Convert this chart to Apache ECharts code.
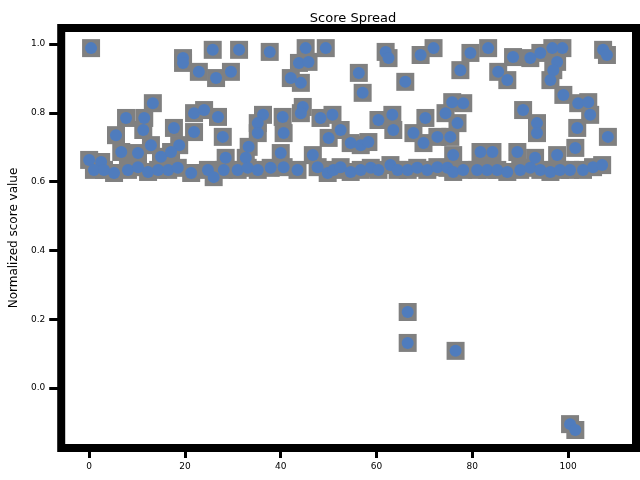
<!DOCTYPE html>
<html>
<head>
<meta charset="utf-8">
<script src="https://cdn.jsdelivr.net/npm/echarts@6/dist/echarts.min.js"></script>
<style>html,body{margin:0;padding:0;background:#fff}#c{width:640px;height:480px}</style>
</head>
<body>
<div id="c"></div>
<script>
var titleText = 'Score Spread';
var yAxisTitle = 'Normalized score value';
var xTicks = [0, 20, 40, 60, 80, 100];
var yTicks = [0, 0.2, 0.4, 0.6, 0.8, 1.0];

var xs = [
  0.4, 19.6, 19.6, 22.9, 26.5, 29.6, 25.8, 31.3, 37.7, 45.2, 49.4, 43.8, 45.8, 42.1, 44.2, 56.3, 57.1,
  61.9, 62.5, 69.2, 71.9, 66.0, 79.6, 83.3, 77.5, 85.4, 87.3, 88.5, 92.1, 94.2, 96.7, 98.8, 97.7, 96.9,
  96.3, 107.3, 108.1, 99.0, 102.1, 104.2, 104.6,
  44.6, 44.2, 48.3, 50.8, 36.3, 35.2, 40.4, 40.6, 35.2, 50.0, 52.5, 54.6, 56.7, 58.3, 60.4, 63.3, 63.5,
  67.7, 70.2, 69.8, 72.7, 75.4, 74.4, 75.8, 78.1, 76.9, 76.0, 81.7, 84.2, 89.4, 90.6, 93.5, 93.5, 93.1,
  97.7, 101.5, 101.9, 108.3, 46.7, 40.0,
  13.3, 7.7, 11.5, 11.3, 5.6, 12.9, 17.7, 18.8, 21.9, 24.0, 26.9, 21.9, 27.9, 33.3,
  0.0, 2.5, 6.7, 10.2, 15.0, 17.1, 28.5, 32.7,
  1.0, 3.1, 5.2, 8.1, 10.2, 12.3, 14.4, 16.5, 18.5, 21.3, 24.8, 26.0, 28.1, 31.0, 33.1, 35.2,
  37.9, 40.6, 43.5, 47.7, 49.8, 51.0, 52.5, 54.6, 56.7, 58.8, 60.4, 62.9, 64.4, 66.5, 68.5, 70.6,
  72.7, 74.8, 76.0, 78.1, 81.0, 83.1, 85.2, 87.3, 90.0, 92.1, 94.2, 96.3, 98.3, 100.4, 103.1, 105.2, 107.1,
  66.5, 66.5, 76.5, 100.4, 101.5
];
var ys = [
  0.988, 0.959, 0.945, 0.919, 0.901, 0.919, 0.983, 0.983, 0.977, 0.988, 0.988, 0.945, 0.948, 0.901, 0.887, 0.916, 0.858,
  0.977, 0.959, 0.968, 0.988, 0.890, 0.974, 0.988, 0.924, 0.919, 0.895, 0.962, 0.959, 0.974, 0.988, 0.988, 0.948, 0.924,
  0.895, 0.983, 0.968, 0.852, 0.828, 0.831, 0.794,
  0.817, 0.799, 0.785, 0.794, 0.794, 0.770, 0.788, 0.741, 0.741, 0.727, 0.750, 0.712, 0.706, 0.715, 0.779, 0.794, 0.750,
  0.741, 0.785, 0.712, 0.730, 0.730, 0.799, 0.831, 0.828, 0.770, 0.677, 0.686, 0.686, 0.686, 0.808, 0.770, 0.741, 0.669,
  0.677, 0.698, 0.756, 0.730, 0.677, 0.683,
  0.828, 0.785, 0.785, 0.750, 0.735, 0.706, 0.756, 0.706, 0.799, 0.808, 0.788, 0.744, 0.730, 0.701,
  0.663, 0.657, 0.686, 0.683, 0.672, 0.686, 0.669, 0.669,
  0.634, 0.634, 0.625, 0.634, 0.642, 0.628, 0.634, 0.634, 0.640, 0.625, 0.634, 0.613, 0.634, 0.634, 0.640, 0.634,
  0.640, 0.642, 0.634, 0.642, 0.625, 0.634, 0.642, 0.628, 0.634, 0.640, 0.634, 0.648, 0.634, 0.634, 0.640, 0.634,
  0.642, 0.640, 0.628, 0.634, 0.634, 0.634, 0.634, 0.628, 0.634, 0.640, 0.634, 0.628, 0.634, 0.634, 0.634, 0.642, 0.648,
  0.221, 0.131, 0.108, -0.105, -0.122
];

var pts = xs.map(function (x, i) { return [x, ys[i]]; });

var chart = echarts.init(document.getElementById('c'), null, {renderer: 'canvas'});
var fontFam = 'DejaVu Sans';
chart.setOption({
  animation: false,
  backgroundColor: '#ffffff',
  title: {
    text: titleText, left: 348, textAlign: 'center', top: 7,
    textStyle: {fontFamily: fontFam, fontSize: 13, fontWeight: 'normal', color: '#000'}
  },
  grid: {
    left: 60, right: 4, top: 28, bottom: 32,
    show: true, borderColor: '#000', borderWidth: 8, backgroundColor: '#fff'
  },
  xAxis: {
    type: 'value', min: -5.833, max: 114.167, position: 'bottom',
    axisLine: {show: false, onZero: false},
    splitLine: {show: false},
    axisTick: {show: true, length: 10, inside: false, lineStyle: {color: '#000', width: 3}, customValues: xTicks},
    axisLabel: {customValues: xTicks, margin: 14, color: '#000', fontFamily: fontFam, fontSize: 9}
  },
  yAxis: {
    type: 'value', min: -0.1744, max: 1.0465, position: 'left',
    name: yAxisTitle, nameLocation: 'middle', nameGap: 40,
    nameTextStyle: {fontFamily: fontFam, fontSize: 12, color: '#000'},
    axisLine: {show: false, onZero: false},
    splitLine: {show: false},
    axisTick: {show: true, length: 12, inside: false, lineStyle: {color: '#000', width: 3}, customValues: yTicks},
    axisLabel: {customValues: yTicks, margin: 16, color: '#000', fontFamily: fontFam, fontSize: 9,
      formatter: function (v) { return v.toFixed(1); }}
  },
  series: [
    {
      type: 'scatter', data: pts, symbol: 'rect', symbolSize: 18,
      itemStyle: {color: '#808080', opacity: 1}, silent: true, z: 1
    },
    {
      type: 'scatter', data: pts, symbol: 'circle', symbolSize: 12,
      itemStyle: {color: '#4f7cbd', opacity: 1}, z: 2
    }
  ]
});
</script>
</body>
</html>
